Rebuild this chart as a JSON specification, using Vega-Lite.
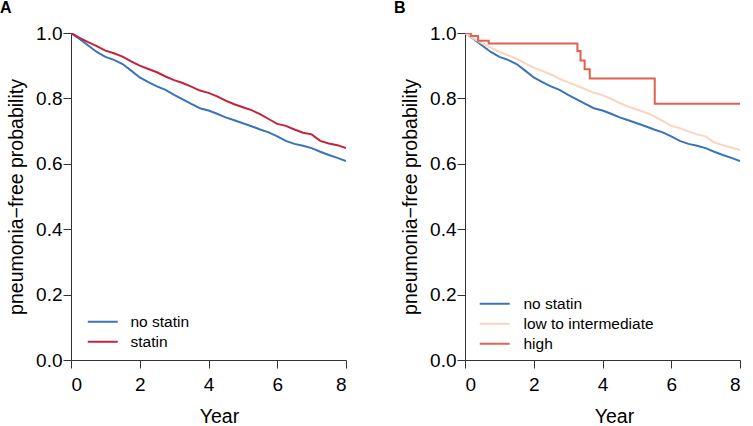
{
  "$schema": "https://vega.github.io/schema/vega-lite/v6.json",
  "autosize": {"type": "pad"},
  "padding": {"left": 0, "top": 0, "right": 0, "bottom": 0},
  "background": "white",
  "config": {
    "font": "Liberation Sans",
    "view": {"stroke": null},
    "axis": {"grid": false, "domainColor": "#333333", "tickColor": "#333333", "labelColor": "#000000", "titleColor": "#000000", "labelFont": "Liberation Sans", "titleFont": "Liberation Sans", "labelFontSize": 19, "titleFontSize": 19.5, "titleFontWeight": "normal", "tickSize": 8, "domainWidth": 1, "tickWidth": 1},
    "legend": {"labelFont": "Liberation Sans", "labelFontSize": 15.5, "labelColor": "#000000", "padding": 0, "title": null, "rowPadding": 3},
    "title": {"font": "Liberation Sans", "fontSize": 16, "fontWeight": "bold", "anchor": "start", "frame": "group", "color": "#000000"}
  },
  "datasets": {
    "km": [
      {"group": "no statin", "t": 0, "s": 1.0},
      {"group": "no statin", "t": 0.25, "s": 0.982},
      {"group": "no statin", "t": 0.5, "s": 0.962},
      {"group": "no statin", "t": 0.75, "s": 0.942},
      {"group": "no statin", "t": 1, "s": 0.927},
      {"group": "no statin", "t": 1.25, "s": 0.918},
      {"group": "no statin", "t": 1.5, "s": 0.905},
      {"group": "no statin", "t": 1.75, "s": 0.885},
      {"group": "no statin", "t": 2, "s": 0.864},
      {"group": "no statin", "t": 2.25, "s": 0.85},
      {"group": "no statin", "t": 2.5, "s": 0.837},
      {"group": "no statin", "t": 2.75, "s": 0.826},
      {"group": "no statin", "t": 3, "s": 0.811},
      {"group": "no statin", "t": 3.25, "s": 0.797},
      {"group": "no statin", "t": 3.5, "s": 0.783},
      {"group": "no statin", "t": 3.75, "s": 0.77},
      {"group": "no statin", "t": 4, "s": 0.763},
      {"group": "no statin", "t": 4.25, "s": 0.753},
      {"group": "no statin", "t": 4.5, "s": 0.742},
      {"group": "no statin", "t": 4.75, "s": 0.733},
      {"group": "no statin", "t": 5, "s": 0.724},
      {"group": "no statin", "t": 5.25, "s": 0.715},
      {"group": "no statin", "t": 5.5, "s": 0.705},
      {"group": "no statin", "t": 5.75, "s": 0.696},
      {"group": "no statin", "t": 6, "s": 0.684},
      {"group": "no statin", "t": 6.25, "s": 0.67},
      {"group": "no statin", "t": 6.5, "s": 0.661},
      {"group": "no statin", "t": 6.75, "s": 0.655},
      {"group": "no statin", "t": 7, "s": 0.648},
      {"group": "no statin", "t": 7.25, "s": 0.637},
      {"group": "no statin", "t": 7.5, "s": 0.627},
      {"group": "no statin", "t": 7.75, "s": 0.618},
      {"group": "no statin", "t": 8, "s": 0.608},
      {"group": "statin", "t": 0, "s": 1.0},
      {"group": "statin", "t": 0.25, "s": 0.985},
      {"group": "statin", "t": 0.5, "s": 0.972},
      {"group": "statin", "t": 0.75, "s": 0.96},
      {"group": "statin", "t": 1, "s": 0.946},
      {"group": "statin", "t": 1.25, "s": 0.938},
      {"group": "statin", "t": 1.5, "s": 0.928},
      {"group": "statin", "t": 1.75, "s": 0.913},
      {"group": "statin", "t": 2, "s": 0.9},
      {"group": "statin", "t": 2.25, "s": 0.89},
      {"group": "statin", "t": 2.5, "s": 0.88},
      {"group": "statin", "t": 2.75, "s": 0.867},
      {"group": "statin", "t": 3, "s": 0.856},
      {"group": "statin", "t": 3.25, "s": 0.847},
      {"group": "statin", "t": 3.5, "s": 0.836},
      {"group": "statin", "t": 3.75, "s": 0.824},
      {"group": "statin", "t": 4, "s": 0.817},
      {"group": "statin", "t": 4.25, "s": 0.806},
      {"group": "statin", "t": 4.5, "s": 0.793},
      {"group": "statin", "t": 4.75, "s": 0.782},
      {"group": "statin", "t": 5, "s": 0.773},
      {"group": "statin", "t": 5.25, "s": 0.764},
      {"group": "statin", "t": 5.5, "s": 0.752},
      {"group": "statin", "t": 5.75, "s": 0.737},
      {"group": "statin", "t": 6, "s": 0.722},
      {"group": "statin", "t": 6.25, "s": 0.716},
      {"group": "statin", "t": 6.5, "s": 0.705},
      {"group": "statin", "t": 6.75, "s": 0.695},
      {"group": "statin", "t": 7, "s": 0.69},
      {"group": "statin", "t": 7.25, "s": 0.67},
      {"group": "statin", "t": 7.5, "s": 0.662},
      {"group": "statin", "t": 7.75, "s": 0.657},
      {"group": "statin", "t": 8, "s": 0.648},
      {"group": "low to intermediate", "t": 0, "s": 1.0},
      {"group": "low to intermediate", "t": 0.25, "s": 0.983},
      {"group": "low to intermediate", "t": 0.5, "s": 0.968},
      {"group": "low to intermediate", "t": 0.75, "s": 0.955},
      {"group": "low to intermediate", "t": 1, "s": 0.942},
      {"group": "low to intermediate", "t": 1.25, "s": 0.932},
      {"group": "low to intermediate", "t": 1.5, "s": 0.921},
      {"group": "low to intermediate", "t": 1.75, "s": 0.907},
      {"group": "low to intermediate", "t": 2, "s": 0.894},
      {"group": "low to intermediate", "t": 2.25, "s": 0.884},
      {"group": "low to intermediate", "t": 2.5, "s": 0.873},
      {"group": "low to intermediate", "t": 2.75, "s": 0.86},
      {"group": "low to intermediate", "t": 3, "s": 0.849},
      {"group": "low to intermediate", "t": 3.25, "s": 0.839},
      {"group": "low to intermediate", "t": 3.5, "s": 0.828},
      {"group": "low to intermediate", "t": 3.75, "s": 0.817},
      {"group": "low to intermediate", "t": 4, "s": 0.81},
      {"group": "low to intermediate", "t": 4.25, "s": 0.799},
      {"group": "low to intermediate", "t": 4.5, "s": 0.786},
      {"group": "low to intermediate", "t": 4.75, "s": 0.775},
      {"group": "low to intermediate", "t": 5, "s": 0.766},
      {"group": "low to intermediate", "t": 5.25, "s": 0.757},
      {"group": "low to intermediate", "t": 5.5, "s": 0.745},
      {"group": "low to intermediate", "t": 5.75, "s": 0.731},
      {"group": "low to intermediate", "t": 6, "s": 0.716},
      {"group": "low to intermediate", "t": 6.25, "s": 0.709},
      {"group": "low to intermediate", "t": 6.5, "s": 0.699},
      {"group": "low to intermediate", "t": 6.75, "s": 0.69},
      {"group": "low to intermediate", "t": 7, "s": 0.684},
      {"group": "low to intermediate", "t": 7.25, "s": 0.665},
      {"group": "low to intermediate", "t": 7.5, "s": 0.657},
      {"group": "low to intermediate", "t": 7.75, "s": 0.65},
      {"group": "low to intermediate", "t": 8, "s": 0.642},
      {"group": "high", "t": 0, "s": 1.0},
      {"group": "high", "t": 0.17, "s": 0.991},
      {"group": "high", "t": 0.38, "s": 0.976},
      {"group": "high", "t": 0.69, "s": 0.968},
      {"group": "high", "t": 3.27, "s": 0.945},
      {"group": "high", "t": 3.36, "s": 0.916},
      {"group": "high", "t": 3.48, "s": 0.889},
      {"group": "high", "t": 3.63, "s": 0.861},
      {"group": "high", "t": 5.52, "s": 0.784},
      {"group": "high", "t": 8, "s": 0.784}
    ]
  },
  "spacing": 119,
  "bounds": "flush",
  "resolve": {"scale": {"color": "independent"}},
  "hconcat": [
    {
      "width": 275,
      "height": 327,
      "title": {"text": "A", "dx": -71, "offset": 8},
      "data": {"name": "km"},
      "transform": [{"filter": {"field": "group", "oneOf": ["no statin", "statin"]}}],
      "mark": {"type": "line", "interpolate": "linear", "strokeWidth": 2, "clip": true},
      "encoding": {
        "x": {"field": "t", "type": "quantitative", "scale": {"domain": [0, 8], "nice": false}, "axis": {"values": [0, 2, 4, 6, 8], "title": "Year", "labelPadding": 7, "titlePadding": 13, "titleX": 148}},
        "y": {"field": "s", "type": "quantitative", "scale": {"domain": [0, 1], "nice": false}, "axis": {"values": [0, 0.2, 0.4, 0.6, 0.8, 1.0], "format": ".1f", "title": "pneumonia\u2212free probability", "labelPadding": 1, "titlePadding": 9}},
        "color": {"field": "group", "type": "nominal", "scale": {"domain": ["no statin", "statin"], "range": ["#3a74b8", "#c4233a"]},
          "legend": {"orient": "none", "legendX": 24, "legendY": 281, "symbolType": "M-3,0H3", "symbolSize": 100, "symbolStrokeWidth": 2, "labelOffset": 20}},
        "order": {"field": "t", "type": "quantitative"}
      }
    },
    {
      "width": 275,
      "height": 327,
      "title": {"text": "B", "dx": -71, "offset": 8},
      "data": {"name": "km"},
      "transform": [{"filter": {"field": "group", "oneOf": ["no statin", "low to intermediate", "high"]}}],
      "layer": [
        {
          "transform": [{"filter": {"field": "group", "oneOf": ["no statin", "low to intermediate"]}}],
          "mark": {"type": "line", "interpolate": "linear", "strokeWidth": 2, "clip": true},
          "encoding": {
            "x": {"field": "t", "type": "quantitative", "scale": {"domain": [0, 8], "nice": false}, "axis": {"values": [0, 2, 4, 6, 8], "title": "Year", "labelPadding": 7, "titlePadding": 13, "titleX": 149}},
            "y": {"field": "s", "type": "quantitative", "scale": {"domain": [0, 1], "nice": false}, "axis": {"values": [0, 0.2, 0.4, 0.6, 0.8, 1.0], "format": ".1f", "title": "pneumonia\u2212free probability", "labelPadding": 1, "titlePadding": 9}},
            "color": {"field": "group", "type": "nominal", "scale": {"domain": ["no statin", "low to intermediate", "high"], "range": ["#3a74b8", "#fbd4bd", "#e2614f"]},
              "legend": {"orient": "none", "legendX": 22, "legendY": 263, "symbolType": "M-3,0H3", "symbolSize": 100, "symbolStrokeWidth": 2, "labelOffset": 21}},
            "order": {"field": "t", "type": "quantitative"}
          }
        },
        {
          "transform": [{"filter": {"field": "group", "equal": "high"}}],
          "mark": {"type": "line", "interpolate": "step-after", "strokeWidth": 2, "clip": true},
          "encoding": {
            "x": {"field": "t", "type": "quantitative"},
            "y": {"field": "s", "type": "quantitative"},
            "color": {"field": "group", "type": "nominal"},
            "order": {"field": "t", "type": "quantitative"}
          }
        }
      ]
    }
  ]
}
